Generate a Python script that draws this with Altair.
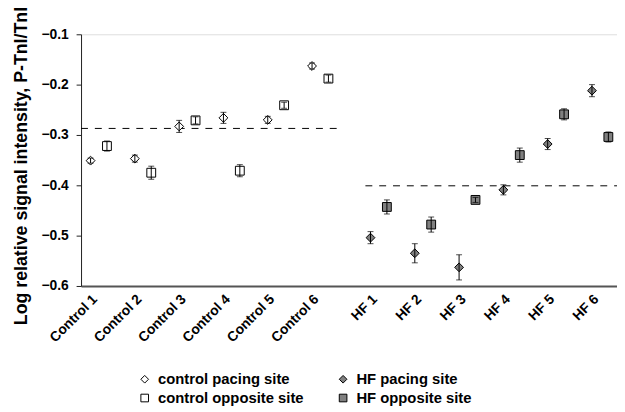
import altair as alt
import pandas as pd

labels = ["Control 1", "Control 2", "Control 3", "Control 4", "Control 5", "Control 6",
          "HF 1", "HF 2", "HF 3", "HF 4", "HF 5", "HF 6"]
groups = ["control"] * 6 + ["HF"] * 6
pacing = [-0.351, -0.347, -0.283, -0.266, -0.270, -0.163,
          -0.504, -0.535, -0.563, -0.409, -0.318, -0.212]
pacing_err = [0.005, 0.007, 0.012, 0.011, 0.007, 0.006,
              0.012, 0.019, 0.025, 0.010, 0.011, 0.012]
opposite = [-0.322, -0.375, -0.271, -0.371, -0.241, -0.188,
            -0.443, -0.478, -0.429, -0.340, -0.259, -0.304]
opposite_err = [0.010, 0.013, 0.007, 0.012, 0.006, 0.007,
                0.014, 0.015, 0.005, 0.014, 0.011, 0.010]
mean_labels = ["control", "HF"]
mean_values = [-0.287, -0.401]

control_series = ["control pacing site", "control opposite site"]
hf_series = ["HF pacing site", "HF opposite site"]

GAP = 0.32
OFF = 0.185
pos = [round(i + 1 + (GAP if g == "HF" else 0), 2) for i, g in enumerate(groups)]

rows = []
for i, lab in enumerate(labels):
    g = groups[i]
    rows.append(dict(label=lab, group=g, x=pos[i] - OFF, y=pacing[i], lo=pacing[i] - pacing_err[i],
                     hi=pacing[i] + pacing_err[i], series=f"{g} pacing site"))
    rows.append(dict(label=lab, group=g, x=pos[i] + OFF, y=opposite[i], lo=opposite[i] - opposite_err[i],
                     hi=opposite[i] + opposite_err[i], series=f"{g} opposite site"))
df = pd.DataFrame(rows)

xmin, xmax = 0.6, 12.7
mean_df = pd.DataFrame({
    "group": mean_labels,
    "y": mean_values,
    "x1": [xmin, pos[6] - 0.3],
    "x2": [pos[5] + 0.39, xmax],
})


def key(p):
    return str(int(p)) if float(p).is_integer() else repr(float(p))


label_map = "{" + ",".join(f"'{key(p)}':'{l}'" for p, l in zip(pos, labels)) + "}"

font = "Liberation Sans"
xscale = alt.Scale(domain=[xmin, xmax], nice=False, zero=False)
yscale = alt.Scale(domain=[-0.6, -0.1], nice=False, zero=False)

xaxis = alt.Axis(values=pos, labelExpr=f"{label_map}['' + datum.value]",
                 labelAngle=-45, labelFont=font, labelFontWeight="bold", labelFontSize=14,
                 labelColor="black", ticks=False, grid=False, title=None,
                 domainColor="#555", domainWidth=2, labelPadding=6, labelAlign="right",
                 labelBaseline="top", labelOverlap=False, labelBound=False, labelOffset=-9)
yaxis = alt.Axis(values=[-0.6, -0.5, -0.4, -0.3, -0.2, -0.1], format=".1f",
                 labelFont=font, labelFontWeight="bold", labelFontSize=14, labelColor="black",
                 tickSize=5, tickColor="#222", domainColor="#222", grid=False, labelPadding=8,
                 title="Log relative signal intensity, P-TnI/TnI", titleFont=font,
                 titleFontWeight="bold", titleFontSize=18, titleColor="black", titlePadding=11,
                 titleY=133)


def make_legend(x):
    return alt.Legend(title=None, orient="none", legendX=x, legendY=342,
                      direction="vertical", rowPadding=3,
                      labelFont=font, labelFontWeight="bold", labelFontSize=15,
                      labelColor="black", symbolSize=60, symbolStrokeWidth=1,
                      labelOffset=6)


def points(sub, series, fill, legx):
    return alt.Chart(sub).mark_point(filled=True, fill=fill, stroke="black",
                                     strokeWidth=1, opacity=1, size=80).encode(
        x=alt.X("x:Q", scale=xscale, axis=xaxis),
        y=alt.Y("y:Q", scale=yscale, axis=yaxis),
        shape=alt.Shape("series:N", scale=alt.Scale(domain=series, range=["diamond", "square"]),
                        legend=make_legend(legx)),
    )


pts_c = points(df[df.group == "control"], control_series, "white", 57)
pts_h = points(df[df.group == "HF"], hf_series, "#808080", 258)

base = alt.Chart(df)
rules = base.mark_rule(color="black", strokeWidth=1).encode(
    x="x:Q", y="lo:Q", y2="hi:Q")
caps_lo = base.mark_tick(orient="horizontal", size=6, thickness=1, color="black").encode(
    x="x:Q", y="lo:Q")
caps_hi = base.mark_tick(orient="horizontal", size=6, thickness=1, color="black").encode(
    x="x:Q", y="hi:Q")

means = alt.Chart(mean_df).mark_rule(color="black", strokeWidth=1, strokeDash=[7, 7]).encode(
    x="x1:Q", x2="x2:Q", y="y:Q")

chart = alt.layer(means, pts_c, pts_h, rules, caps_lo, caps_hi).resolve_scale(
    shape="independent"
).properties(
    width=543, height=255,
    autosize=alt.AutoSizeParams(type="none"),
    padding={"left": 74, "top": 24, "right": 0, "bottom": 122},
).configure_view(stroke=None).configure(background="white")

chart.save("out.html", embed_options={"renderer": "svg", "actions": False})
